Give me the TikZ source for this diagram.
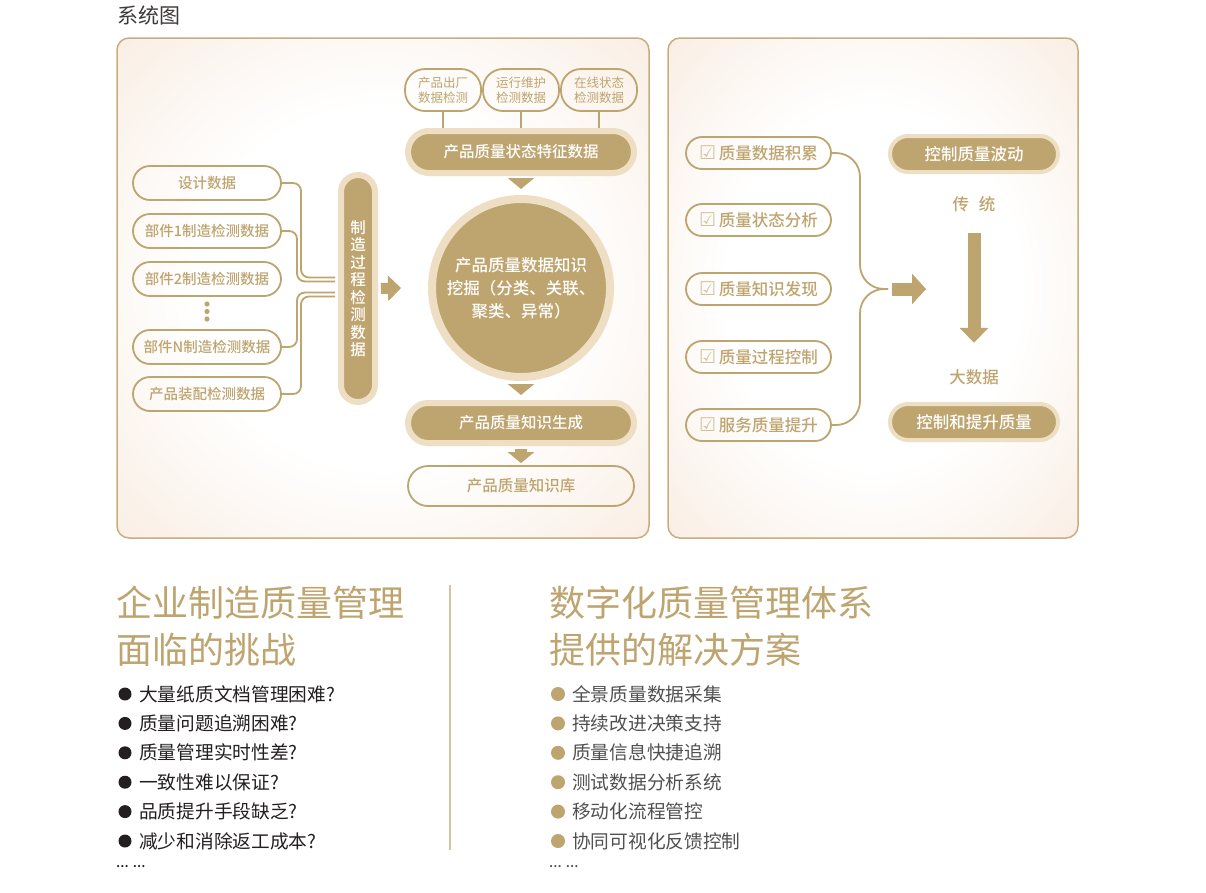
\documentclass[tikz,border=0pt]{standalone}
\usepackage{fontspec}
\setmainfont{Noto Sans CJK SC}[BoldFont={Noto Sans CJK SC Medium}]
\newfontfamily\symfont{DejaVu Sans}
\usetikzlibrary{arrows.meta}
\definecolor{qGold}{RGB}{190,164,111}
\definecolor{qGoldLight}{RGB}{238,223,196}
\definecolor{qTick}{RGB}{212,194,158}
\definecolor{qPeach}{RGB}{246,230,215}
\definecolor{qFrame}{RGB}{200,174,126}
\definecolor{qInk}{RGB}{35,31,32}
\definecolor{qGray}{RGB}{80,80,80}
\definecolor{qTitle}{RGB}{62,58,57}
\pgfdeclareradialshading{panelglow}{\pgfpoint{0bp}{0bp}}{color(0bp)=(white); color(18bp)=(white); color(44bp)=(qPeach); color(60bp)=(qPeach)}
\newcommand{\ChkBox}{{\symfont\fontsize{19}{19}\selectfont\color{qTick}☑}\,}

\tikzset{
    link/.style={draw=qGold, line width=1.8pt, rounded corners=8pt},
    blockarrow/.style={draw=qGold, line width=12pt, -{Triangle[length=11pt,width=26pt]}},
    pillout/.style={
        draw=qGold,
        line width=1.8pt,
        rounded corners=17pt,
        minimum width=148pt,
        minimum height=34pt,
        inner sep=0pt,
        text=qGold,
        font=\bfseries\fontsize{14.5}{16}\selectfont
    },
    srcbox/.style={
        pillout,
        rounded corners=20pt,
        minimum width=76pt,
        minimum height=42pt,
        align=center,
        font=\fontsize{12.5}{15}\selectfont
    },
    checkpill/.style={
        pillout,
        rounded corners=16pt,
        minimum width=145pt,
        minimum height=32pt,
        font=\bfseries\fontsize{16.5}{18}\selectfont
    },
    darkpill/.style={
        fill=qGold,
        draw=qGoldLight,
        line width=6pt,
        inner sep=3pt,
        text=white,
        font=\bfseries\fontsize{15.5}{17}\selectfont
    },
    caption/.style={text=qGold, font=\bfseries\fontsize{16.5}{18}\selectfont}
}

\begin{document}
\begin{tikzpicture}[x=1pt, y=-1pt]
\useasboundingbox (0,0) rectangle (1206,892);
\node[anchor=west, inner sep=0pt, text=qTitle, font=\fontsize{21}{24}\selectfont] (title) at (117,15) {系统图};

% the two panels
\shade[shading=panelglow, rounded corners=12pt] (117,38) rectangle (649,538);
\draw[qFrame, line width=1.5pt, rounded corners=12pt] (117,38) rectangle (649,538);
\shade[shading=panelglow, rounded corners=12pt] (668,38) rectangle (1078,538);
\draw[qFrame, line width=1.5pt, rounded corners=12pt] (668,38) rectangle (1078,538);

% left panel
\node[srcbox] (src1) at (443,90) {产品出厂\\数据检测};
\node[srcbox] (src2) at (521,90) {运行维护\\检测数据};
\node[srcbox] (src3) at (599,90) {在线状态\\检测数据};
\node[darkpill, minimum width=226pt, minimum height=42pt, rounded corners=21pt] (feature) at (521,152) {产品质量状态特征数据};
\foreach \s in {src1,src2,src3}
    \draw[link] (\s.south) -- (\s.south |- feature.north);
\node[
    circle,
    fill=qGold,
    draw=qGoldLight,
    line width=8pt,
    minimum size=178pt,
    align=center,
    text=white,
    font=\bfseries\fontsize{16.5}{23}\selectfont
] (mining) at (521,288) {产品质量数据知识\\挖掘（分类、关联、\\聚类、异常）};
\node[darkpill, minimum width=226pt, minimum height=40pt, rounded corners=20pt] (gen) at (521,423) {产品质量知识生成};
\node[pillout, minimum width=226pt, minimum height=40pt, rounded corners=20pt, font=\bfseries\fontsize{15.5}{17}\selectfont] (base) at (521,486) {产品质量知识库};
\draw[blockarrow, shorten <=3pt, shorten >=6pt] (feature.south) -- (mining.north);
\draw[blockarrow, shorten <=4pt, shorten >=5pt] (mining.south) -- (gen.north);
\draw[blockarrow, shorten <=3pt, shorten >=2pt] (gen.south) -- (base.north);

\node[pillout] (d1) at (207,183) {设计数据};
\node[pillout] (d2) at (207,231) {部件1制造检测数据};
\node[pillout] (d3) at (207,279) {部件2制造检测数据};
\node[pillout] (dn) at (207,347) {部件N制造检测数据};
\node[pillout] (da) at (207,394) {产品装配检测数据};
\foreach \k in {0,1,2}
    \fill[qGold] (207,{304+7.5*\k}) circle (2.6pt);
\node[
    darkpill,
    minimum width=34pt,
    minimum height=227pt,
    rounded corners=17pt,
    align=center,
    font=\bfseries\fontsize{15.5}{17.5}\selectfont
] (vbar) at (358,288.5) {制\\造\\过\\程\\检\\测\\数\\据};
\foreach \s/\dy/\dx in {d1/11/37,d2/7/41,dn/-4/41,da/-8/37}
    \draw[link, shorten >=3pt] (\s.east) -| ([xshift=-\dx pt,yshift=\dy pt]vbar.west) -- ([yshift=\dy pt]vbar.west);
\draw[blockarrow, line width=11pt, -{Triangle[length=13pt,width=25pt]}, shorten <=3pt] (vbar.east) -- ([xshift=-27pt]mining.west);

% right panel
\foreach \n/\y/\t in {q1/153/质量数据积累,q2/220/质量状态分析,q3/289/质量知识发现,q4/357/质量过程控制,q5/425/服务质量提升}
    \node[checkpill] (\n) at (758.5,\y) {\ChkBox\t};
\coordinate (braceMid) at (860,289);
\coordinate (braceTip) at (888,289);
\coordinate (arrowEnd) at (926,289);
\draw[link, rounded corners=24pt] (q1.east) -| (braceMid) -- (braceTip);
\draw[link, rounded corners=24pt] (q5.east) -| (braceMid) -- (braceTip);
\draw[blockarrow, line width=13pt, -{Triangle[length=14pt,width=30pt]}] ([xshift=4pt]braceTip) -- (arrowEnd);

\node[darkpill, line width=4pt, minimum width=168pt, minimum height=36pt, rounded corners=18pt, font=\bfseries\fontsize{16.5}{18}\selectfont] (ctrl1) at (974,154) {控制质量波动};
\node[caption] (trad) at (974,204) {传\hspace{0.6em}统};
\node[caption] (bigdata) at (974,377) {大数据};
\node[darkpill, line width=4pt, minimum width=168pt, minimum height=36pt, rounded corners=18pt, font=\bfseries\fontsize{16.5}{18}\selectfont] (ctrl2) at (974,422) {控制和提升质量};
\draw[blockarrow, line width=13pt, -{Triangle[length=15pt,width=28pt]}, shorten <=18pt, shorten >=23pt] (trad) -- (bigdata);

% challenges and solutions
\node[anchor=west, align=left, inner sep=0pt, text=qGold, font=\fontsize{36}{47}\selectfont] (chalTitle) at (116,626) {企业制造质量管理\\面临的挑战};
\node[anchor=west, align=left, inner sep=0pt, text=qGold, font=\fontsize{36}{47}\selectfont] (solTitle) at (549,626) {数字化质量管理体系\\提供的解决方案};
\draw[qFrame!75, line width=1.2pt] (450,585) -- (450,850);

\foreach \t [count=\i from 0] in {大量纸质文档管理困难?,质量问题追溯困难?,质量管理实时性差?,一致性难以保证?,品质提升手段缺乏?,减少和消除返工成本?}{
    \fill[qInk] (125,{694+29.4*\i}) circle (6.5pt);
    \node[anchor=west, inner sep=0pt, text=qInk, font=\fontsize{18.7}{20}\selectfont] (chal\i) at (139,{694+29.4*\i}) {\t};
}
\foreach \t [count=\i from 0] in {全景质量数据采集,持续改进决策支持,质量信息快捷追溯,测试数据分析系统,移动化流程管控,协同可视化反馈控制}{
    \fill[qGold] (558,{694+29.4*\i}) circle (7pt);
    \node[anchor=west, inner sep=0pt, text=qGray, font=\fontsize{18.7}{20}\selectfont] (sol\i) at (572,{694+29.4*\i}) {\t};
}
\node[anchor=west, inner sep=0pt, text=qInk, font=\bfseries\fontsize{14}{16}\selectfont] (chalMore) at (116,867) {... ...};
\node[anchor=west, inner sep=0pt, text=qGray, font=\bfseries\fontsize{14}{16}\selectfont] (solMore) at (549,867) {... ...};
\end{tikzpicture}
\end{document}
